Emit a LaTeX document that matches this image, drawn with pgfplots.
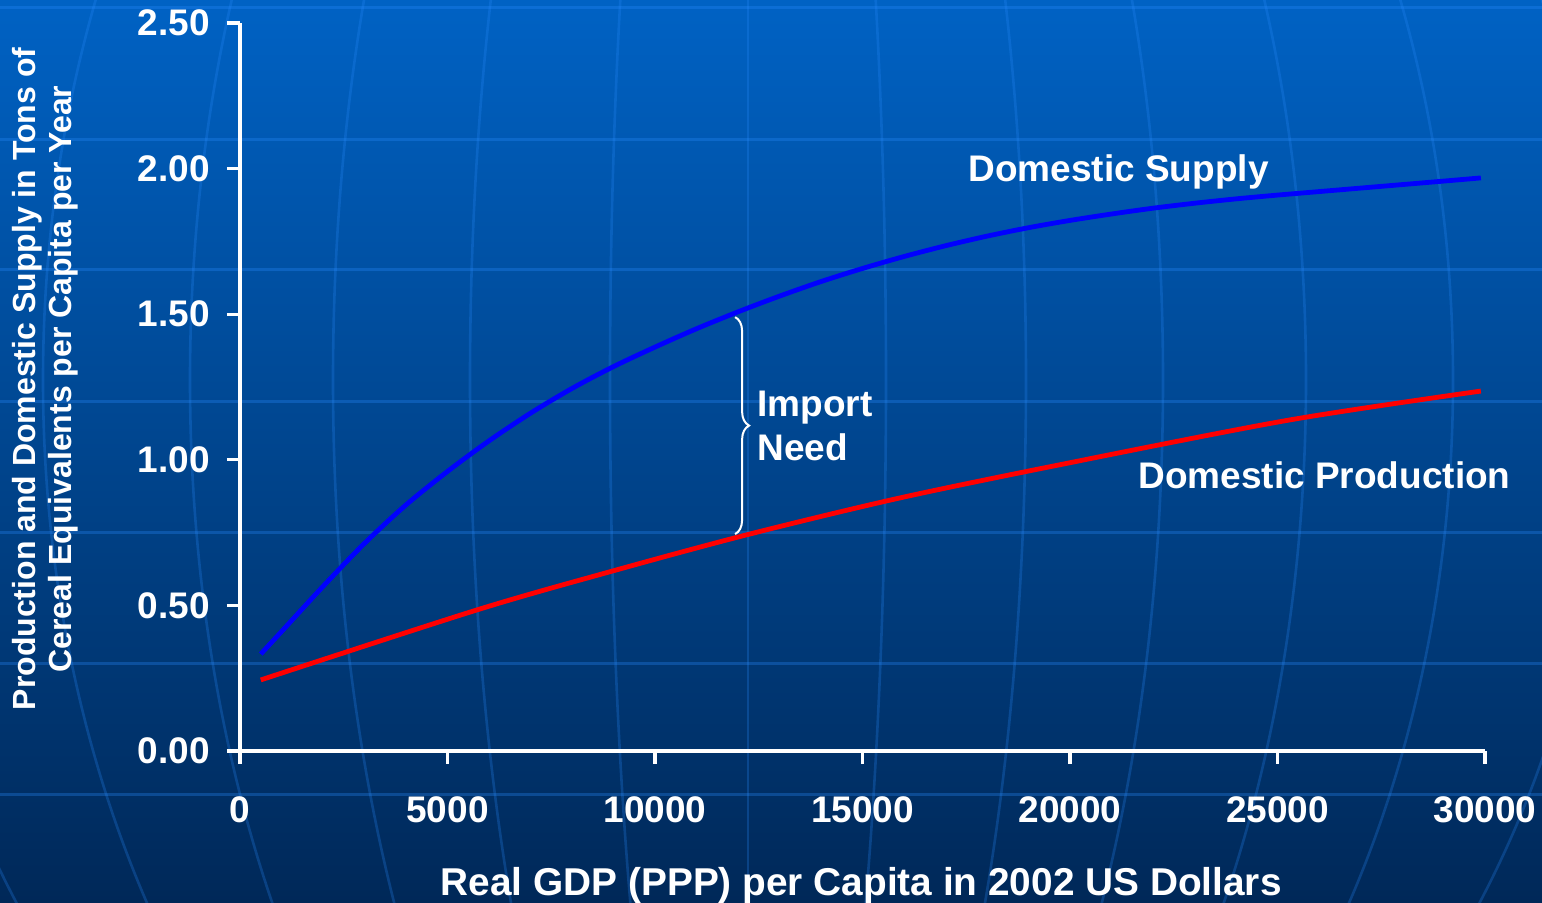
\documentclass[border=0pt]{standalone}
\usepackage{fontspec}
\setmainfont{Liberation Sans}
\usepackage{pgfplots}
\pgfplotsset{compat=1.18}
\usetikzlibrary{decorations.pathreplacing}

\definecolor{bgtop}{RGB}{0,98,196}
\definecolor{bgbot}{RGB}{0,40,88}
\definecolor{globeln}{RGB}{40,140,255}

\begin{document}
\begin{tikzpicture}
\path[use as bounding box] (0,0) rectangle (771pt,451.5pt);
\shade[top color=bgtop, bottom color=bgbot] (0,0) rectangle (771pt,451.5pt);

% globe lines in the background (pixel units, y down)
\begin{scope}[yshift=451.5pt, x=0.5pt, y=-0.5pt]
  \clip (0,0) rectangle (1542,903);
  \foreach \yy in {8,140,270,402,533,664,795}
    \draw[globeln, opacity=0.3, line width=1.5pt] (0,\yy) -- (1542,\yy);
  \foreach \d in {138,278,415,558,705,858}
    \draw[globeln, opacity=0.25, line width=1.3pt] (748,380) ellipse [x radius=\d, y radius=1000];
  \draw[globeln, opacity=0.25, line width=1.3pt] (748,0) -- (748,903);
\end{scope}

\begin{axis}[
    at={(120pt,76pt)}, anchor=south west,
    scale only axis,
    width=622.5pt, height=364pt,
    xmin=0, xmax=30000,
    ymin=0, ymax=2.5,
    axis x line*=bottom,
    axis y line*=left,
    axis line style={white, line width=2.2pt},
    xtick={0,5000,10000,15000,20000,25000,30000},
    ytick={0,0.5,1,1.5,2,2.5},
    tick align=outside,
    major tick length=6.5pt,
    tick style={white, line width=1.6pt},
    scaled x ticks=false,
    /pgf/number format/assume math mode=true,
    tick label style={font=\fontsize{18.5}{20}\selectfont\bfseries, text=white},
    xticklabel style={yshift=-13pt, /pgf/number format/set thousands separator={}},
    yticklabel style={xshift=-5pt, /pgf/number format/.cd, fixed, fixed zerofill, precision=2},
    xlabel={Real GDP (PPP) per Capita in 2002 US Dollars},
    xlabel style={at={(axis description cs:0.499,-0.198)}, anchor=base,
        font=\fontsize{19.4}{22}\selectfont\bfseries, text=white},
    ylabel={Production and Domestic Supply in Tons of\\Cereal Equivalents per Capita per Year},
    ylabel style={at={(axis description cs:-0.1566,0.511)}, anchor=center, align=center,
        font=\fontsize{16}{18}\selectfont\bfseries, text=white},
    clip=false,
]

% Domestic Supply
\addplot[blue, line width=2.4pt, smooth] coordinates {
    (500,0.333) (1000,0.41) (2000,0.565) (3000,0.713) (4000,0.845)
    (5000,0.96) (6000,1.065) (7000,1.16) (8000,1.245) (9000,1.32)
    (10000,1.387) (11000,1.45) (12000,1.508) (13000,1.562) (14000,1.612)
    (15000,1.657) (16000,1.698) (17000,1.735) (18000,1.768) (19000,1.797)
    (20000,1.822) (21000,1.844) (22000,1.864) (23000,1.881) (24000,1.896)
    (25000,1.909) (26000,1.921) (27000,1.933) (28000,1.945) (29000,1.957)
    (29900,1.968)
};

% Domestic Production
\addplot[red, line width=2.4pt, smooth] coordinates {
    (500,0.244) (5700,0.484) (8900,0.615) (12200,0.742)
    (15900,0.869) (20000,0.99) (25300,1.137) (29900,1.236)
};

\draw[white, line width=1pt, decorate, decoration={brace, amplitude=7pt}]
    (axis cs:11930,1.49) -- (axis cs:11930,0.745);

\node[anchor=base west, inner sep=0pt, text=white, font=\fontsize{18.5}{22}\selectfont\bfseries]
    at (axis cs:17543,1.957) {Domestic Supply};
\node[anchor=base west, inner sep=0pt, text=white, font=\fontsize{18.5}{22}\selectfont\bfseries]
    at (axis cs:21639,0.903) {Domestic Production};
\node[anchor=base west, inner sep=0pt, text=white, font=\fontsize{18.5}{22}\selectfont\bfseries]
    at (axis cs:12458,1.147) {Import};
\node[anchor=base west, inner sep=0pt, text=white, font=\fontsize{18.5}{22}\selectfont\bfseries]
    at (axis cs:12458,0.996) {Need};

\end{axis}
\end{tikzpicture}
\end{document}
